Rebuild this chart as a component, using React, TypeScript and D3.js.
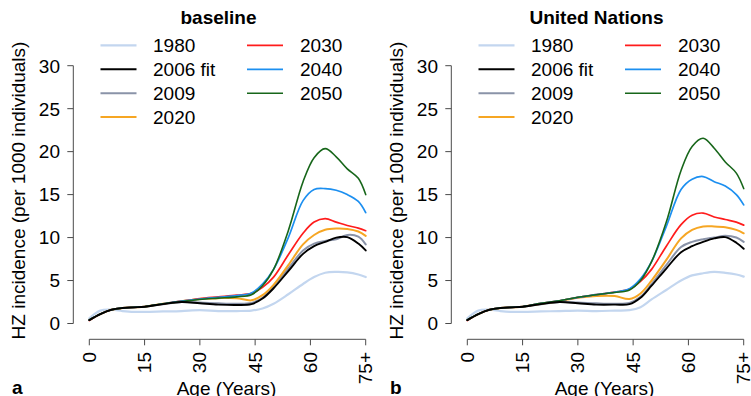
import React from "react";
import * as d3 from "d3";

// Age grid (years) at which incidence is tabulated
const ages = [0, 3, 6, 9, 12, 15, 20, 25, 30, 35, 40, 44, 47, 50, 54, 58, 61, 64, 67, 70, 73, 75];

const xTickValues = [0, 15, 30, 45, 60, 75];
const xTickLabels = ["0", "15", "30", "45", "60", "75+"];
const yTickValues = [0, 5, 10, 15, 20, 25, 30];

const seriesNames = ["1980", "2006 fit", "2009", "2020", "2030", "2040", "2050"];
const seriesColors = ["#c3d6ef", "#000000", "#8a93a8", "#f6a623", "#ff1c1c", "#1c8ff0", "#17661a"];
const seriesWidths = [2.2, 1.9, 2, 2, 1.7, 1.7, 1.6];

// Scenario: baseline
const baseline1980 = [0.6, 1.5, 1.6, 1.45, 1.35, 1.35, 1.4, 1.45, 1.55, 1.45, 1.45, 1.5, 1.75, 2.3, 3.4, 4.6, 5.4, 5.9, 6.0, 5.95, 5.7, 5.4];
const baseline2006 = [0.4, 1.1, 1.6, 1.8, 1.88, 1.95, 2.25, 2.5, 2.35, 2.2, 2.15, 2.25, 2.9, 4.1, 6.1, 8.1, 9.0, 9.5, 10.0, 10.05, 9.3, 8.5];
const baseline2009 = [0.4, 1.1, 1.6, 1.8, 1.88, 1.95, 2.25, 2.5, 2.45, 2.35, 2.3, 2.4, 3.0, 4.3, 6.4, 8.5, 9.3, 9.6, 9.8, 10.3, 10.1, 9.2];
const baseline2020 = [0.4, 1.1, 1.6, 1.8, 1.88, 1.95, 2.3, 2.6, 2.85, 2.95, 2.95, 2.7, 3.3, 4.5, 6.8, 9.2, 10.3, 10.9, 11.05, 11.0, 10.7, 10.2];
const baseline2030 = [0.35, 1.1, 1.6, 1.8, 1.88, 1.95, 2.3, 2.6, 2.9, 3.1, 3.3, 3.5, 4.2, 5.4, 8.0, 10.5, 11.8, 12.2, 11.8, 11.4, 11.1, 10.8];
const baseline2040 = [0.4, 1.1, 1.6, 1.8, 1.88, 1.95, 2.3, 2.6, 2.85, 3.05, 3.25, 3.55, 4.6, 6.3, 10.0, 14.3, 15.6, 15.7, 15.5, 15.0, 14.2, 12.9];
const baseline2050 = [0.4, 1.1, 1.6, 1.8, 1.88, 1.95, 2.3, 2.55, 2.8, 2.95, 3.1, 3.35, 4.4, 6.3, 10.8, 16.5, 19.3, 20.35, 19.4, 18.0, 16.9, 15.0];

// Scenario: United Nations
const un1980 = [0.6, 1.5, 1.6, 1.45, 1.35, 1.35, 1.4, 1.45, 1.5, 1.45, 1.5, 1.55, 1.9, 2.8, 3.9, 5.0, 5.6, 5.85, 6.0, 5.9, 5.7, 5.45];
const un2006 = [0.4, 1.1, 1.6, 1.8, 1.88, 1.95, 2.25, 2.5, 2.35, 2.2, 2.2, 2.25, 3.0, 4.4, 6.4, 8.3, 9.0, 9.5, 9.9, 10.05, 9.4, 8.7];
const un2009 = [0.4, 1.1, 1.6, 1.8, 1.88, 1.95, 2.25, 2.5, 2.45, 2.35, 2.3, 2.4, 3.1, 4.6, 6.8, 8.9, 9.5, 9.8, 10.0, 10.2, 10.0, 9.5];
const un2020 = [0.4, 1.1, 1.6, 1.8, 1.88, 1.95, 2.3, 2.6, 3.0, 3.2, 3.2, 2.85, 3.5, 5.0, 7.4, 9.9, 10.9, 11.3, 11.3, 11.2, 10.9, 10.5];
const un2030 = [0.35, 1.1, 1.6, 1.8, 1.88, 1.95, 2.35, 2.65, 3.05, 3.35, 3.65, 4.0, 4.9, 6.3, 9.0, 11.5, 12.6, 12.85, 12.4, 12.1, 11.8, 11.45];
const un2040 = [0.4, 1.1, 1.6, 1.8, 1.88, 1.95, 2.35, 2.65, 3.05, 3.35, 3.65, 4.05, 5.2, 7.2, 11.3, 15.6, 16.8, 17.1, 16.5, 16.0, 15.0, 13.8];
const un2050 = [0.4, 1.1, 1.6, 1.8, 1.88, 1.95, 2.35, 2.65, 3.05, 3.35, 3.6, 3.9, 5.0, 7.2, 11.8, 17.8, 20.6, 21.55, 20.4, 18.8, 17.5, 15.7];

const baselineSeries = [baseline1980, baseline2006, baseline2009, baseline2020, baseline2030, baseline2040, baseline2050];
const unSeries = [un1980, un2006, un2009, un2020, un2030, un2040, un2050];

// Draw order: light 1980 first, fitted 2006 curve on top
const drawOrder = [0, 2, 3, 4, 5, 6, 1];

const FONT = "'Liberation Sans', Arial, Helvetica, sans-serif";
const FS = 19;
const AXIS_COLOR = "#4a4a4a";

interface PanelProps {
  dx: number;
  title: string;
  letter: string;
  series: number[][];
}

function Panel({ dx, title, letter, series }: PanelProps) {
  const x = d3.scaleLinear().domain([0, 75]).range([89.3, 365.7]);
  const y = d3.scaleLinear().domain([0, 30]).range([323.5, 65.7]);
  const line = d3
    .line<number>()
    .x((_, i) => x(ages[i]))
    .y((v) => y(v))
    .curve(d3.curveCatmullRom.alpha(0.5));

  const yAxisX = 73.3;
  const xAxisY = 339.3;
  const tickLen = 6;

  const legendRows = [45.3, 69.3, 93.3, 116.9];
  const legendCols = [
    { x0: 100.5, x1: 136.5, tx: 153 },
    { x0: 247, x1: 283, tx: 300 },
  ];

  return (
    <g transform={`translate(${dx},0)`} fontFamily={FONT}>
      <text x={218.5} y={24} textAnchor="middle" fontWeight="bold" fontSize={FS}>
        {title}
      </text>

      {/* legend */}
      {seriesNames.map((name, i) => {
        const col = legendCols[i < 4 ? 0 : 1];
        const ry = legendRows[i < 4 ? i : i - 4];
        return (
          <g key={name}>
            <line x1={col.x0} x2={col.x1} y1={ry} y2={ry} stroke={seriesColors[i]} strokeWidth={seriesWidths[i]} />
            <text x={col.tx} y={ry} dy="0.36em" fontSize={FS}>
              {name}
            </text>
          </g>
        );
      })}

      {/* y axis */}
      <line x1={yAxisX} x2={yAxisX} y1={y(0)} y2={y(30)} stroke={AXIS_COLOR} strokeWidth={1} />
      {yTickValues.map((t) => (
        <g key={t}>
          <line x1={yAxisX - tickLen} x2={yAxisX} y1={y(t)} y2={y(t)} stroke={AXIS_COLOR} strokeWidth={1} />
          <text x={60} y={y(t)} dy="0.36em" textAnchor="end" fontSize={FS}>
            {t}
          </text>
        </g>
      ))}
      <text
        transform={`translate(25,190.5) rotate(-90)`}
        textAnchor="middle"
        fontSize={FS}
      >
        HZ incidence (per 1000 individuals)
      </text>

      {/* x axis */}
      <line x1={x(0)} x2={x(75)} y1={xAxisY} y2={xAxisY} stroke={AXIS_COLOR} strokeWidth={1} />
      {xTickValues.map((t, i) => (
        <g key={t}>
          <line x1={x(t)} x2={x(t)} y1={xAxisY} y2={xAxisY + tickLen} stroke={AXIS_COLOR} strokeWidth={1} />
          <text
            transform={`translate(${x(t) + 6.5},352) rotate(-90)`}
            textAnchor="end"
            fontSize={FS}
          >
            {xTickLabels[i]}
          </text>
        </g>
      ))}
      <text x={226.5} y={395} textAnchor="middle" fontSize={FS}>
        Age (Years)
      </text>
      <text x={12} y={394} fontWeight="bold" fontSize={FS}>
        {letter}
      </text>

      {/* curves */}
      {drawOrder.map((i) => (
        <path
          key={seriesNames[i]}
          d={line(series[i]) || ""}
          fill="none"
          stroke={seriesColors[i]}
          strokeWidth={seriesWidths[i]}
          strokeLinejoin="round"
          strokeLinecap="round"
        />
      ))}
    </g>
  );
}

export default function App() {
  return (
    <svg
      width={751}
      height={396}
      viewBox="0 0 751 396"
      style={{ position: "absolute", left: 0, top: 0, background: "#fff" }}
    >
      <rect width={751} height={396} fill="#fff" />
      <Panel dx={0} title="baseline" letter="a" series={baselineSeries} />
      <Panel dx={378} title="United Nations" letter="b" series={unSeries} />
    </svg>
  );
}
